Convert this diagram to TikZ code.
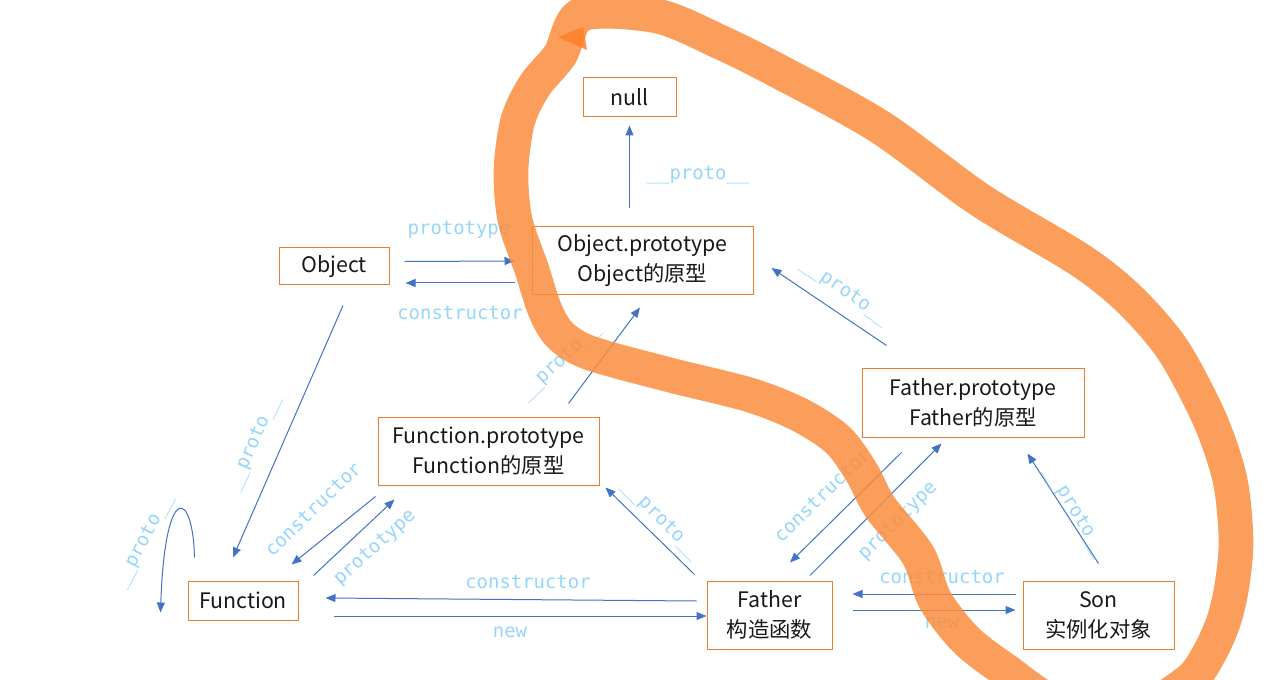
\documentclass[tikz,border=0pt]{standalone}
\usepackage{fontspec}
\setmainfont{Noto Sans CJK SC}
\newfontfamily\lblfont{DejaVu Sans Mono}
\usetikzlibrary{arrows.meta,calc}
\definecolor{boxorange}{RGB}{237,125,49}
\definecolor{arrblue}{RGB}{68,114,196}
\definecolor{lblblue}{RGB}{150,214,250}
\definecolor{penorange}{RGB}{252,140,60}
\definecolor{tiporange}{RGB}{255,128,40}
\tikzset{
  box/.style={draw=boxorange,line width=0.75pt,fill=white,inner sep=0pt,align=center,
    font=\fontsize{16}{22.5}\selectfont,text=black!90},
  conn/.style={draw=arrblue,line width=0.75pt,-{Triangle[length=7.5pt,width=6pt]}},
  lbl/.style={text=lblblue,inner sep=0pt,font=\lblfont\fontsize{14.2}{14.2}\selectfont},
  pen/.style={draw=penorange,line width=26pt,line cap=round,line join=round,opacity=0.84}
}
\begin{document}
\begin{tikzpicture}[x=0.75pt,y=-0.75pt]
\useasboundingbox (0,0) rectangle (1280,680);
\fill[white] (0,0) rectangle (1280,680);
% nodes
\node[box,minimum width=69.75pt,minimum height=29.25pt] (null) at (629.5,97.5) {null};
\node[box,minimum width=82.5pt,minimum height=27.75pt] (obj) at (334,266.5) {Object};
\node[box,minimum width=165.75pt,minimum height=51pt] (objp) at (642.5,261) {Object.prototype\\Object的原型};
\node[box,minimum width=165.75pt,minimum height=51pt] (funp) at (488.5,451) {Function.prototype\\Function的原型};
\node[box,minimum width=166.5pt,minimum height=51pt] (fatp) at (973,403) {Father.prototype\\Father的原型};
\node[box,minimum width=82.5pt,minimum height=29.25pt] (func) at (243,600.5) {Function};
\node[box,minimum width=93.75pt,minimum height=51pt] (father) at (769.5,615) {Father\\构造函数};
\node[box,minimum width=113.25pt,minimum height=51pt] (son) at (1098.5,615) {Son\\实例化对象};
% connectors
\draw[conn] ($(objp.north)+(-13,-18)$) -- ($(null.south)+(0,8)$);
\draw[conn] ($(obj.east)+(15,-5)$) -- ($(objp.west)+(-17,0)$);
\draw[conn] ($(objp.west)+(-17,22)$) -- ($(obj.east)+(16,16.5)$);
\draw[conn] ($(obj.south)+(9,20)$) -- ($(func.north)+(-10,-23)$);
\draw[conn] ($(func.north west)+(7,-23)$) .. controls (193,490) and (165,480) .. ($(func.west)+(-27,12)$);
\draw[conn] ($(funp.south west)+(-2,11)$) -- ($(func.north east)+(-7,-16)$);
\draw[conn] ($(func.north east)+(15,-5)$) -- ($(funp.south west)+(17,14)$);
\draw[conn] ($(funp.north)+(80,-13)$) -- ($(objp.south)+(-2.5,12)$);
\draw[conn] ($(father.west)+(-10,-14)$) -- ($(func.east)+(27,-2.5)$);
\draw[conn] ($(func.east)+(35,15.5)$) -- ($(father.west)+(0,1)$);
\draw[conn] ($(father.north west)+(-12,-6)$) -- ($(funp.south east)+(6,2)$);
\draw[conn] ($(fatp.south west)+(40,15)$) -- ($(father.north)+(20.5,-18)$);
\draw[conn] ($(father.north)+(40.5,-5)$) -- ($(fatp.south west)+(80,6)$);
\draw[conn] ($(fatp.north west)+(25,-23)$) -- ($(objp.east)+(18,7)$);
\draw[conn] ($(son.west)+(-7,-21)$) -- ($(father.east)+(20,-21)$);
\draw[conn] ($(father.east)+(20,-5)$) -- ($(son.west)+(-7,-5)$);
\draw[conn] ($(son.north)+(0,-17)$) -- ($(fatp.south east)+(-57,16)$);
% labels
\node[lbl] (l1) at (698,175) {\_\_proto\_\_};
\node[lbl] (l2) at (459,230) {prototype};
\node[lbl] (l3) at (460,313) {constructor};
\node[lbl,rotate=66] (l4) at (254,443) {\_\_proto\_\_};
\node[lbl,rotate=62] (l5) at (144,541) {\_\_proto\_\_};
\node[lbl,rotate=44] (l6) at (313,509) {constructor};
\node[lbl,rotate=42] (l7) at (375,548) {prototype};
\node[lbl,rotate=43] (l8) at (560,362) {\_\_proto\_\_};
\node[lbl] (l9) at (528,582) {constructor};
\node[lbl] (l10) at (510,632) {new};
\node[lbl,rotate=-45] (l11) at (661,520) {\_\_proto\_\_};
\node[lbl,rotate=44] (l12) at (822,495) {constructor};
\node[lbl,rotate=45] (l13) at (898,521) {prototype};
\node[lbl,rotate=-35] (l14) at (845,292) {\_\_proto\_\_};
\node[lbl] (l15) at (942,577) {constructor};
\node[lbl] (l16) at (942,623) {new};
\node[lbl,rotate=-59] (l17) at (1075,512) {\_\_proto\_\_};
% freehand orange loop
\begin{scope}
\clip (0,0) rectangle (1280,680);
\draw[pen] plot[smooth cycle,tension=0.5] coordinates {
 (582,14) (657,16) (720,42) (780,72) (880,127) (980,200) (1080,260) (1130,300)
 (1173,350) (1210,420) (1230,480) (1236,540) (1232,585) (1224,620) (1210,652)
 (1190,680) (1140,708) (1060,705) (1005,670) (966,640) (935,600) (918,555)
 (880,507) (862,473) (838,440) (800,415) (750,395) (670,375) (590,353) (560,335)
 (545,310) (532,270) (515,220) (511,170) (518,120) (535,85) (560,55)};
\fill[tiporange,opacity=0.85] (558,37) -- (583,27) -- (587,50) -- cycle;
\end{scope}
\end{tikzpicture}
\end{document}
